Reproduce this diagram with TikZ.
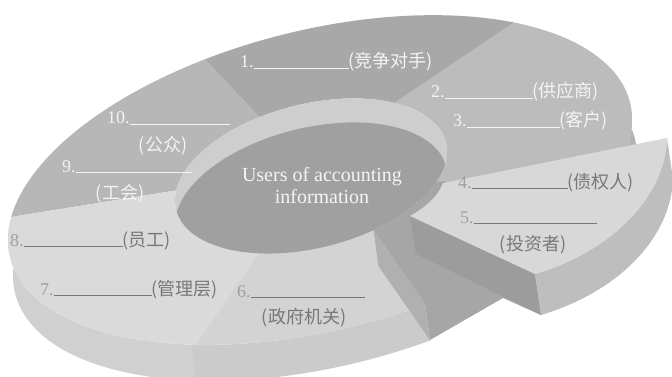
\documentclass[tikz,border=0pt]{standalone}
\usepackage{fontspec}
\setmainfont{Liberation Serif}
\newfontfamily\cjk{Noto Sans CJK SC}
\definecolor{cone}{RGB}{168,168,168}
\definecolor{cmid}{RGB}{183,183,183}
\definecolor{ctwo}{RGB}{188,188,188}
\definecolor{clight}{RGB}{218,218,218}
\definecolor{csix}{RGB}{211,211,211}
\definecolor{cwall}{RGB}{206,206,206}
\definecolor{cfloor}{RGB}{160,160,160}
\definecolor{cside}{RGB}{208,208,208}
\definecolor{csidesix}{RGB}{203,203,203}
\definecolor{csider}{RGB}{180,180,180}
\definecolor{cdark}{RGB}{166,166,166}
\definecolor{cend}{RGB}{176,176,176}
\definecolor{cfront}{RGB}{156,156,156}
\definecolor{csltop}{RGB}{216,216,216}
\definecolor{cslside}{RGB}{190,190,190}
\definecolor{twhite}{RGB}{244,244,244}
\definecolor{tdig}{RGB}{160,160,160}
\definecolor{tcjk}{RGB}{120,120,120}
\newcommand\myblank[1]{\rule[-1pt]{#1pt}{1pt}}
\newcommand\digfont{\fontsize{18}{21}\selectfont}
\newcommand\cjkfont{\cjk\fontsize{18}{21}\selectfont}
\begin{document}
\begin{tikzpicture}[x=1pt,y=-1pt,
  declare function={
    ox(\t)=320+309.9*cos(\t)-36.3*sin(\t);
    oy(\t)=180-77.3*cos(\t)-145.6*sin(\t);
    hx(\t)=311+134.9*cos(\t)-17.4*sin(\t);
    hy(\t)=176-33.6*cos(\t)-69.9*sin(\t);
  },
  lbl/.style={inner sep=0pt, anchor=base west, font=\digfont},
  cjlbl/.style={inner sep=0pt, anchor=base, font=\cjkfont},
  smp/.style={samples=40, smooth}
]
\path[use as bounding box] (0,0) rectangle (672,377);
\clip (0,0) rectangle (672,377);

% outer side bands of the ring
\fill[cside] plot[smp,domain=160:240] ({ox(\x)},{oy(\x)}) -- plot[smp,domain=240:160] ({ox(\x)+5},{oy(\x)+36}) -- cycle;
\fill[csidesix] plot[smp,domain=239:283] ({ox(\x)},{oy(\x)}) -- plot[smp,domain=283:239] ({ox(\x)+5},{oy(\x)+36}) -- cycle;
\fill[csider] plot[smp,domain=-40:15] ({ox(\x)},{oy(\x)}) -- plot[smp,domain=15:-40] ({ox(\x)+5},{oy(\x)+36}) -- cycle;

% top faces of the ring segments
\fill[ctwo] plot[smp,domain=-40:46] ({ox(\x)},{oy(\x)}) -- plot[smp,domain=46:-40] ({hx(\x)},{hy(\x)}) -- cycle;
\fill[cone] plot[smp,domain=45:105] ({ox(\x)},{oy(\x)}) -- plot[smp,domain=105:45] ({hx(\x)},{hy(\x)}) -- cycle;
\fill[cmid] plot[smp,domain=105:165] ({ox(\x)},{oy(\x)}) -- plot[smp,domain=165:105] ({hx(\x)},{hy(\x)}) -- cycle;
\fill[clight] plot[smp,domain=165:241] ({ox(\x)},{oy(\x)}) -- plot[smp,domain=241:165] ({hx(\x)},{hy(\x)}) -- cycle;
\fill[csix] plot[smp,domain=240:283] ({ox(\x)},{oy(\x)}) -- plot[smp,domain=290:240] ({hx(\x)},{hy(\x)}) -- cycle;

% hole: inner wall and floor
\fill[cwall] plot[samples=90,smooth,domain=0:360] ({hx(\x)},{hy(\x)}) -- cycle;
\begin{scope}
  \clip plot[samples=90,smooth,domain=0:360] ({hx(\x)},{hy(\x)}) -- cycle;
  \fill[cfloor] plot[samples=90,smooth,domain=0:360] ({hx(\x)},{hy(\x)+24}) -- cycle;
\end{scope}

% gap between segment 6 and the pulled-out slice
\fill[cdark] plot[smp,domain=-30:-70] ({hx(\x)},{hy(\x)}) -- (425,304) -- (430,340) -- (503,298) -- (541,315) -- (535,274) -- (445,181) -- cycle;
\fill[cend] ({hx(-70)},{hy(-70)}) -- (425,304) -- (430,340) -- ({hx(-70)+5},{hy(-70)+36}) -- cycle;

% pulled-out slice (4, 5)
\fill[cfront] (410,216) -- (535,274) -- (541,315) -- (416,254) -- cycle;
\fill[cslside] (667,138) .. controls (665,195) and (615,250) .. (535,274) -- (541,315) .. controls (621,291) and (671,236) .. (673,179) -- cycle;
\fill[csltop] (443,183) -- (667,138) .. controls (665,195) and (615,250) .. (535,274) -- (410,216) .. controls (424,208) and (438,197) .. (443,183) -- cycle;

% centre text
\node[inner sep=0pt, align=center, text=twhite, font=\fontsize{20}{22}\selectfont] (centre) at (322,186) {Users of accounting\\information};

% labels on darker segments
\node[lbl, text=twhite] (l1) at (240,68) {1.\myblank{95}{\cjkfont(竞争对手)}};
\node[lbl, text=twhite] (l2) at (431,98) {2.\myblank{88}{\cjkfont(供应商)}};
\node[lbl, text=twhite] (l3) at (453,127) {3.\myblank{93}{\cjkfont(客户)}};
\node[lbl, text=twhite] (l10) at (107,124) {10.\myblank{100}};
\node[cjlbl, text=twhite] (c10) at (163,151) {(公众)};
\node[lbl, text=twhite] (l9) at (62,172) {9.\myblank{116}};
\node[cjlbl, text=twhite] (c9) at (120,199) {(工会)};

% labels on lighter segments
\node[lbl, text=tdig] (l8) at (10,246) {8.\textcolor{tcjk}{\myblank{99}{\cjkfont(员工)}}};
\node[lbl, text=tdig] (l7) at (40,295) {7.\textcolor{tcjk}{\myblank{98}{\cjkfont(管理层)}}};
\node[lbl, text=tdig] (l6) at (237,297) {6.\textcolor{tcjk}{\myblank{114}}};
\node[cjlbl, text=tcjk] (c6) at (304,323) {(政府机关)};
\node[lbl, text=tdig] (l4) at (458,188) {4.\textcolor{tcjk}{\myblank{96}{\cjkfont(债权人)}}};
\node[lbl, text=tdig] (l5) at (460,223) {5.\textcolor{tcjk}{\myblank{123}}};
\node[cjlbl, text=tcjk] (c5) at (533,250) {(投资者)};
\end{tikzpicture}
\end{document}
